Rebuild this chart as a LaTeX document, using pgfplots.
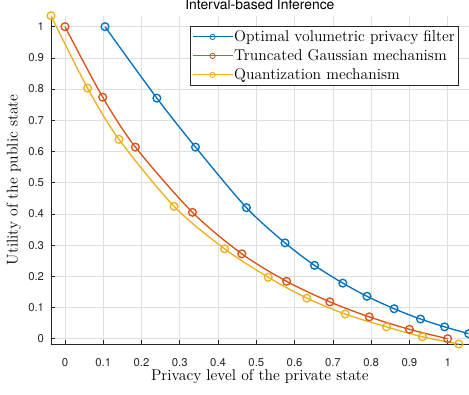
\documentclass[border=0pt]{standalone}
\usepackage{fontspec}
\usepackage{pgfplots}
\pgfplotsset{compat=1.18}
\newfontfamily\heros{TeX Gyre Heros}
\definecolor{mblue}{rgb}{0,0.447,0.741}
\definecolor{morange}{rgb}{0.850,0.325,0.098}
\definecolor{myellow}{rgb}{0.929,0.694,0.125}
\definecolor{axgray}{rgb}{0.15,0.15,0.15}
\definecolor{gridgray}{rgb}{0.875,0.875,0.875}
\begin{document}
\begin{tikzpicture}
\begin{axis}[
  scale only axis, width=313.3pt, height=246.2pt,
  xmin=-0.0366, xmax=1.055, ymin=-0.017, ymax=1.035,
  xtick={0,0.1,0.2,0.3,0.4,0.5,0.6,0.7,0.8,0.9,1},
  ytick={0,0.1,0.2,0.3,0.4,0.5,0.6,0.7,0.8,0.9,1},
  axis x line*=bottom, axis y line*=left,
  axis line style={axgray, line width=0.6pt, -},
  tick style={axgray, line width=0.5pt}, major tick length=3pt, tick align=inside,
  grid=major, major grid style={gridgray, line width=0.5pt},
  ticklabel style={font=\heros\fontsize{8.5}{10}\selectfont, text=axgray},
  /pgf/number format/assume math mode=true,
  xticklabel style={yshift=-7pt},
  yticklabel style={xshift=-1.7pt},
  xlabel={Privacy level of the private state},
  ylabel={Utility of the public state},
  label style={font=\fontsize{11.7}{13}\selectfont},
  xlabel style={at={(axis description cs:0.5,-0.098)}, anchor=center},
  ylabel style={at={(axis description cs:-0.0893,0.5)}, anchor=center},
  legend cell align=left,
  legend style={at={(axis description cs:0.975,0.9695)}, anchor=north east, draw=axgray, line width=0.5pt, fill=white,
    font=\fontsize{11.7}{13}\selectfont, inner xsep=1.5pt, inner ysep=1pt,
    nodes={inner xsep=0.8pt, inner ysep=0pt, text height=10.3pt, text depth=3.95pt}},
  legend image code/.code={\draw[mark repeat=2, mark phase=2, #1, line width=0.8pt, mark size=2pt, mark options={line width=0.6pt}] plot coordinates {(0pt,0pt) (15pt,0pt) (30pt,0pt)};},
]
\addplot[mblue, line width=1pt, mark=o, mark size=2.9pt, smooth] coordinates {
(0.1045,1.0) (0.240,0.771) (0.341,0.614) (0.474,0.420) (0.575,0.307) (0.652,0.235)
(0.726,0.178) (0.789,0.136) (0.860,0.096) (0.929,0.063) (0.992,0.038) (1.055,0.016)};
\addlegendentry{Optimal volumetric privacy filter}
\addplot[morange, line width=1pt, mark=o, mark size=2.9pt, smooth] coordinates {
(0.0,1.0) (0.0985,0.774) (0.184,0.614) (0.333,0.405) (0.462,0.272) (0.579,0.184)
(0.692,0.118) (0.795,0.070) (0.900,0.030) (1.0,0.0)};
\addlegendentry{Truncated Gaussian mechanism}
\addplot[myellow, line width=1pt, mark=o, mark size=2.9pt, smooth] coordinates {
(-0.0366,1.035) (0.059,0.803) (0.141,0.639) (0.285,0.424) (0.417,0.288) (0.531,0.197)
(0.632,0.130) (0.732,0.079) (0.840,0.038) (0.934,0.006) (1.029,-0.017)};
\addlegendentry{Quantization mechanism}
\coordinate (T) at (rel axis cs:0.5,1);
\coordinate (SW) at (rel axis cs:0,0);
\coordinate (NE) at (rel axis cs:1,1);
\end{axis}
\node[font=\heros\fontsize{10.4}{12}\selectfont, anchor=base, inner sep=0pt] at ([yshift=5pt]T) {Interval-based Inference};
\pgfresetboundingbox
\path ([shift={(-38.25pt,-37.5pt)}]SW) rectangle ([shift={(0.2pt,11.8pt)}]NE);
\end{tikzpicture}
\end{document}
